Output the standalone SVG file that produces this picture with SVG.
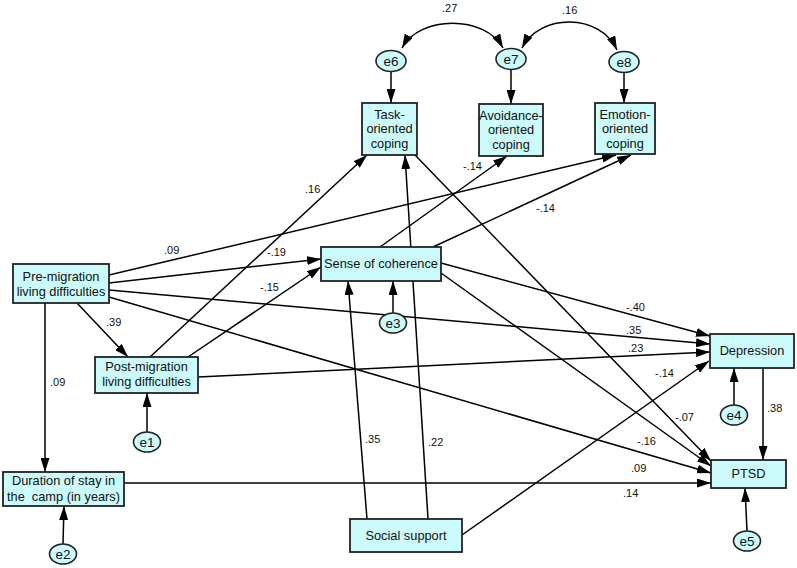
<svg xmlns="http://www.w3.org/2000/svg" width="797" height="568" viewBox="0 0 797 568">
<defs>
<marker id="ah" viewBox="0 0 14 9" refX="14" refY="4.5" markerWidth="14" markerHeight="9" orient="auto-start-reverse" markerUnits="userSpaceOnUse"><path d="M0,0 L14,4.5 L0,9 z" fill="#000"/></marker>
<style>
.box{fill:#ccfbfb;stroke:#222;stroke-width:1.8}
.err{fill:#ccfbfb;stroke:#222;stroke-width:1.6}
.t{font-family:"Liberation Sans",Arial,sans-serif;font-size:12.8px;fill:#111;text-anchor:middle}
.et{font-family:"Liberation Sans",Arial,sans-serif;font-size:13.5px;fill:#111;text-anchor:middle}
.lb{font-family:"Liberation Sans",Arial,sans-serif;font-size:11px;fill:#111}
.c line,.c path{stroke:#000;stroke-width:1.5;fill:none;marker-end:url(#ah)}
</style>
</defs>
<rect width="797" height="568" fill="#fff"/>
<g class="c" id="connectors">
<path d="M402,48 C420,15 485,15 503,48" style="marker-start:url(#ah)"/>
<path d="M522,48 C540,13 600,13 617,50" style="marker-start:url(#ah)"/>
<line x1="391" y1="71" x2="391" y2="103"/>
<line x1="511" y1="69" x2="511" y2="104"/>
<line x1="624" y1="72" x2="624" y2="103"/>
<line x1="77" y1="303" x2="128" y2="357"/>
<line x1="45" y1="303" x2="45" y2="472"/>
<line x1="109" y1="283" x2="321" y2="259"/>
<line x1="109" y1="275" x2="616" y2="155"/>
<line x1="109" y1="290" x2="710" y2="344"/>
<line x1="109" y1="297" x2="711" y2="473"/>
<line x1="150" y1="357" x2="367" y2="155"/>
<line x1="188" y1="357" x2="321" y2="267"/>
<line x1="198" y1="377" x2="710" y2="352"/>
<line x1="380" y1="247" x2="507" y2="156"/>
<line x1="433" y1="247" x2="631" y2="155"/>
<line x1="441" y1="263" x2="710" y2="336"/>
<line x1="441" y1="273" x2="711" y2="466"/>
<line x1="415" y1="155" x2="711" y2="461"/>
<line x1="393" y1="313" x2="393" y2="281"/>
<line x1="367" y1="519" x2="348" y2="281"/>
<line x1="428" y1="519" x2="405" y2="155"/>
<line x1="462" y1="535" x2="709" y2="361"/>
<line x1="124" y1="483" x2="711" y2="483"/>
<line x1="763" y1="368" x2="763" y2="460"/>
<line x1="734" y1="405" x2="734" y2="368"/>
<line x1="747" y1="531" x2="745" y2="488"/>
<line x1="147" y1="432" x2="147" y2="393"/>
<line x1="63" y1="544" x2="64" y2="506"/>
</g>
<g id="labels">
<text class="lb" x="442" y="12">.27</text>
<text class="lb" x="562" y="14">.16</text>
<text class="lb" x="164" y="254">.09</text>
<text class="lb" x="267" y="256">-.19</text>
<text class="lb" x="260" y="291">-.15</text>
<text class="lb" x="106" y="326">.39</text>
<text class="lb" x="50" y="386">.09</text>
<text class="lb" x="305" y="193">.16</text>
<text class="lb" x="463" y="170">-.14</text>
<text class="lb" x="536" y="212">-.14</text>
<text class="lb" x="626" y="311">-.40</text>
<text class="lb" x="626" y="334">.35</text>
<text class="lb" x="628" y="352">.23</text>
<text class="lb" x="655" y="377">-.14</text>
<text class="lb" x="675" y="421">-.07</text>
<text class="lb" x="637" y="445">-.16</text>
<text class="lb" x="631" y="472">.09</text>
<text class="lb" x="623" y="497">.14</text>
<text class="lb" x="365" y="443">.35</text>
<text class="lb" x="428" y="446">.22</text>
<text class="lb" x="767" y="412">.38</text>
</g>
<g id="task"><rect class="box" x="362" y="103" width="55" height="52"/><text class="t" x="389.5" y="119">Task-</text><text class="t" x="389.5" y="133">oriented</text><text class="t" x="389.5" y="148">coping</text></g>
<g id="avoid"><rect class="box" x="479" y="104" width="64" height="52"/><text class="t" x="511" y="120">Avoidance-</text><text class="t" x="511" y="134">oriented</text><text class="t" x="511" y="149">coping</text></g>
<g id="emotion"><rect class="box" x="595" y="103" width="60" height="51"/><text class="t" x="625" y="119">Emotion-</text><text class="t" x="625" y="133">oriented</text><text class="t" x="625" y="148">coping</text></g>
<g id="pre"><rect class="box" x="13" y="264" width="96" height="39"/><text class="t" x="61" y="281">Pre-migration</text><text class="t" x="61" y="296">living difficulties</text></g>
<g id="soc"><rect class="box" x="321" y="247" width="120" height="34"/><text class="t" x="381" y="268">Sense of coherence</text></g>
<g id="post"><rect class="box" x="95" y="357" width="103" height="36"/><text class="t" x="146.5" y="371">Post-migration</text><text class="t" x="146.5" y="386">living difficulties</text></g>
<g id="duration"><rect class="box" x="3" y="472" width="121" height="34"/><text class="t" x="63.5" y="485">Duration of stay in</text><text class="t" x="63.5" y="501" xml:space="preserve">the  camp (in years)</text></g>
<g id="social"><rect class="box" x="350" y="519" width="112" height="33"/><text class="t" x="406" y="540">Social support</text></g>
<g id="depression"><rect class="box" x="710" y="334" width="84" height="34"/><text class="t" x="752" y="355">Depression</text></g>
<g id="ptsd"><rect class="box" x="711" y="460" width="75" height="28"/><text class="t" x="748.5" y="478">PTSD</text></g>
<g id="e6"><ellipse class="err" cx="391" cy="61" rx="15" ry="10.5"/><text class="et" x="391" y="66">e6</text></g>
<g id="e7"><ellipse class="err" cx="511" cy="59" rx="15" ry="10.5"/><text class="et" x="511" y="64">e7</text></g>
<g id="e8"><ellipse class="err" cx="624" cy="62" rx="15" ry="10.5"/><text class="et" x="624" y="67">e8</text></g>
<g id="e3"><ellipse class="err" cx="393" cy="323" rx="13.5" ry="10"/><text class="et" x="393" y="328">e3</text></g>
<g id="e1"><ellipse class="err" cx="147" cy="442" rx="13.5" ry="10"/><text class="et" x="147" y="447">e1</text></g>
<g id="e2"><ellipse class="err" cx="63" cy="554" rx="13.5" ry="10"/><text class="et" x="63" y="559">e2</text></g>
<g id="e4"><ellipse class="err" cx="734" cy="415" rx="13.5" ry="10"/><text class="et" x="734" y="420">e4</text></g>
<g id="e5"><ellipse class="err" cx="747" cy="541" rx="13.5" ry="10"/><text class="et" x="747" y="546">e5</text></g>
</svg>
